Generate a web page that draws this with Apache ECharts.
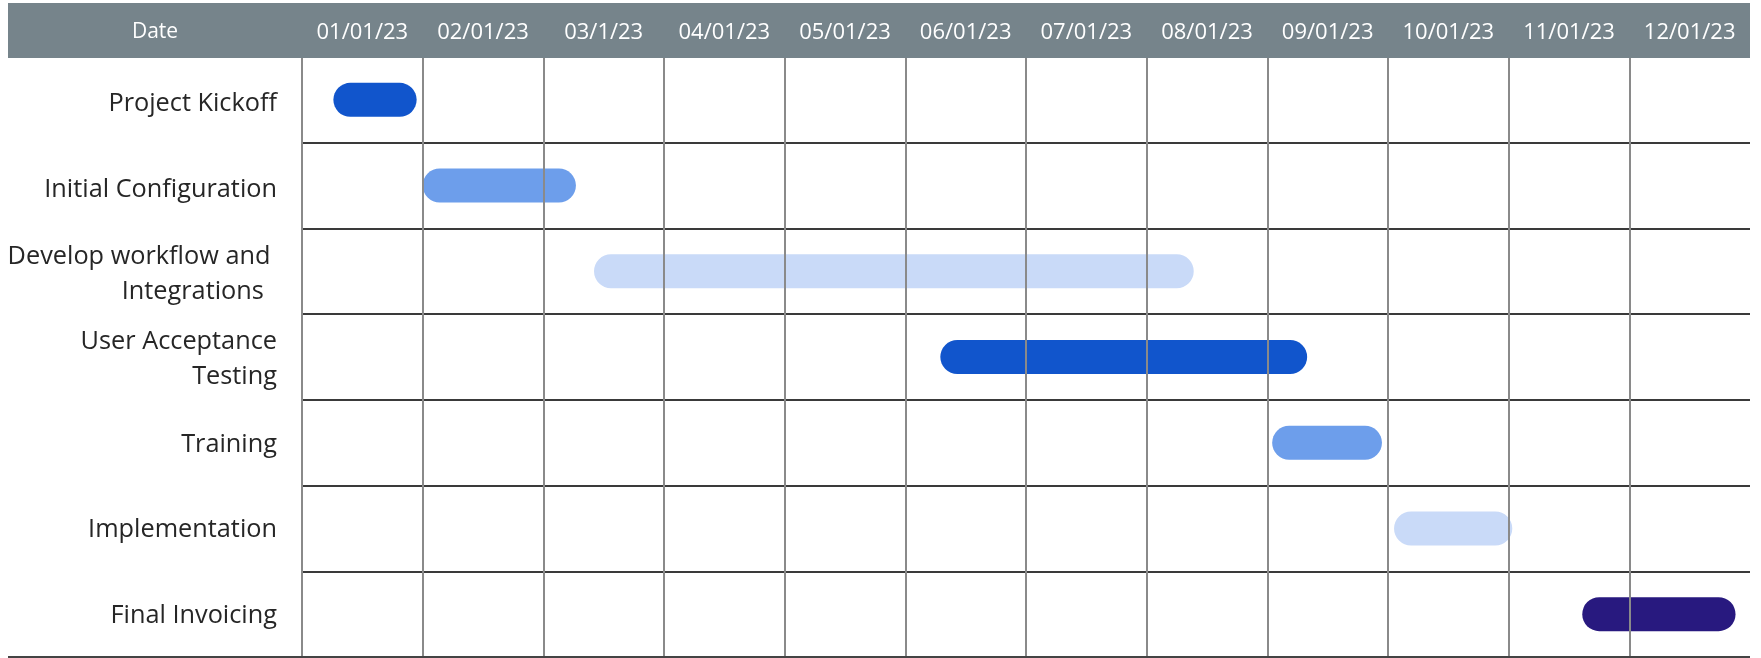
<!DOCTYPE html>
<html>
<head>
<meta charset="utf-8">
<title>Project Timeline</title>
<script src="https://cdn.jsdelivr.net/npm/echarts@6/dist/echarts.min.js"></script>
<style>
  html, body { margin: 0; padding: 0; background: #fff; }
  #mychart { width: 1761px; height: 658px; }
</style>
</head>
<body>
<div id="mychart"></div>
<script>
// tasks, top to bottom
const tasks = [
  'Project Kickoff',
  'Initial Configuration',
  'Develop workflow and \nIntegrations  ',
  'User Acceptance\nTesting',
  'Training',
  'Implementation',
  'Final Invoicing'
];
const monthLabels = ['01/01/23', '02/01/23', '03/1/23', '04/01/23', '05/01/23', '06/01/23',
  '07/01/23', '08/01/23', '09/01/23', '10/01/23', '11/01/23', '12/01/23'];
// start / end of each task, in months counted from 01/01/23
const taskStart = [0.26, 1.0, 2.42, 5.29, 8.04, 9.05, 10.61];
const taskEnd = [0.95, 2.27, 7.39, 8.33, 8.95, 10.03, 11.88];
const taskColors = ['#1155cc', '#6d9eeb', '#c9daf8', '#1155cc', '#6d9eeb', '#c9daf8', '#28197f'];

const font = 'Open Sans';
const barHeight = 34;

let data = tasks.map(function (t, i) {
  return { value: [i, taskStart[i], taskEnd[i]], itemStyle: { color: taskColors[i] } };
});

let option = {
  animation: false,
  grid: [
    { left: 302, right: 11, top: 57, bottom: 1 },
    // same rows, moved down a little: only used to place the task labels
    { left: 302, right: 11, top: 61.5, height: 600 }
  ],
  graphic: [
    {
      type: 'rect', z: 100,
      shape: { x: 8, y: 3, width: 1742, height: 55 },
      style: { fill: '#76848b' }
    },
    {
      type: 'text', z: 101, x: 155, y: 32,
      style: { text: 'Date', fill: '#ffffff', font: '21px "Open Sans"', align: 'center', verticalAlign: 'middle' }
    },
    {
      type: 'line', z: 100,
      shape: { x1: 8, y1: 657, x2: 1750, y2: 657 },
      style: { stroke: '#444', lineWidth: 2 }
    }
  ],
  xAxis: [
    {
      type: 'value', min: 0, max: 12, interval: 1, position: 'top',
      axisLabel: { show: false }, axisLine: { show: false }, axisTick: { show: false },
      splitLine: { show: true, showMaxLine: false, lineStyle: { color: '#8a8a8a', width: 2 } }
    },
    {
      type: 'category', data: monthLabels, position: 'top', boundaryGap: true,
      axisLine: { show: false }, axisTick: { show: false }, splitLine: { show: false },
      axisLabel: { interval: 0, color: '#ffffff', fontSize: 22, fontFamily: font, margin: 13 },
      z: 110
    },
    { type: 'value', gridIndex: 1, min: 0, max: 12, show: false }
  ],
  yAxis: [
    {
      type: 'category', data: tasks, inverse: true,
      axisLine: { show: false }, axisTick: { show: false }, axisLabel: { show: false },
      splitLine: { show: true, lineStyle: { color: '#3a3a3a', width: 2 } }
    },
    {
      type: 'category', data: tasks, inverse: true, gridIndex: 1,
      axisLine: { show: false }, axisTick: { show: false }, splitLine: { show: false },
      axisLabel: { fontSize: 25.3, color: '#262626', fontFamily: font, margin: 25, lineHeight: 35 }
    }
  ],
  series: [{
    type: 'custom',
    z: -1,
    xAxisIndex: 0,
    yAxisIndex: 0,
    encode: { x: [1, 2], y: 0 },
    renderItem: function (params, api) {
      let row = api.value(0);
      let start = api.coord([api.value(1), row]);
      let end = api.coord([api.value(2), row]);
      return {
        type: 'rect',
        shape: { x: start[0], y: start[1] - barHeight / 2, width: end[0] - start[0], height: barHeight, r: barHeight / 2 },
        style: { fill: api.visual('color') }
      };
    },
    data: data
  }]
};

let myChart = echarts.init(document.getElementById('mychart'));
myChart.setOption(option);
</script>
</body>
</html>
